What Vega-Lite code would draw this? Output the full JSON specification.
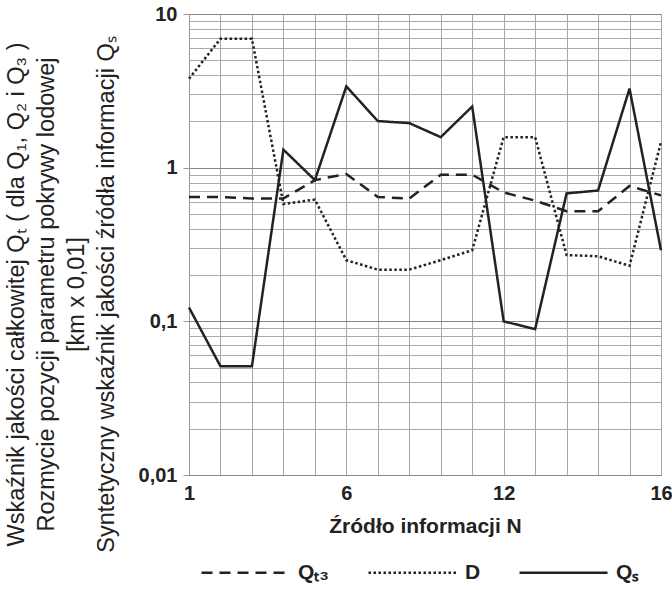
{
  "$schema": "https://vega.github.io/schema/vega-lite/v6.json",
  "width": 472,
  "height": 461,
  "autosize": {"type": "none"},
  "padding": {"left": 189, "top": 14, "right": 11, "bottom": 115},
  "background": "white",
  "config": {"view": {"stroke": "#999", "strokeWidth": 1}, "font": "Liberation Sans"},
  "data": {
    "values": [
      {"N": 1, "series": "Qₜ₃", "value": 0.645},
      {"N": 2, "series": "Qₜ₃", "value": 0.645},
      {"N": 3, "series": "Qₜ₃", "value": 0.63},
      {"N": 4, "series": "Qₜ₃", "value": 0.63},
      {"N": 5, "series": "Qₜ₃", "value": 0.83},
      {"N": 6, "series": "Qₜ₃", "value": 0.91},
      {"N": 7, "series": "Qₜ₃", "value": 0.645},
      {"N": 8, "series": "Qₜ₃", "value": 0.63},
      {"N": 9, "series": "Qₜ₃", "value": 0.9},
      {"N": 10, "series": "Qₜ₃", "value": 0.9},
      {"N": 11, "series": "Qₜ₃", "value": 0.69},
      {"N": 12, "series": "Qₜ₃", "value": 0.61},
      {"N": 13, "series": "Qₜ₃", "value": 0.52},
      {"N": 14, "series": "Qₜ₃", "value": 0.52},
      {"N": 15, "series": "Qₜ₃", "value": 0.76},
      {"N": 16, "series": "Qₜ₃", "value": 0.66},
      {"N": 1, "series": "D", "value": 3.79},
      {"N": 2, "series": "D", "value": 6.9},
      {"N": 3, "series": "D", "value": 6.9},
      {"N": 4, "series": "D", "value": 0.58},
      {"N": 5, "series": "D", "value": 0.62},
      {"N": 6, "series": "D", "value": 0.25},
      {"N": 7, "series": "D", "value": 0.217},
      {"N": 8, "series": "D", "value": 0.217},
      {"N": 9, "series": "D", "value": 0.25},
      {"N": 10, "series": "D", "value": 0.29},
      {"N": 11, "series": "D", "value": 1.58},
      {"N": 12, "series": "D", "value": 1.58},
      {"N": 13, "series": "D", "value": 0.27},
      {"N": 14, "series": "D", "value": 0.265},
      {"N": 15, "series": "D", "value": 0.23},
      {"N": 16, "series": "D", "value": 1.47},
      {"N": 1, "series": "Qₛ", "value": 0.123},
      {"N": 2, "series": "Qₛ", "value": 0.051},
      {"N": 3, "series": "Qₛ", "value": 0.051},
      {"N": 4, "series": "Qₛ", "value": 1.31},
      {"N": 5, "series": "Qₛ", "value": 0.83},
      {"N": 6, "series": "Qₛ", "value": 3.38},
      {"N": 7, "series": "Qₛ", "value": 2.01},
      {"N": 8, "series": "Qₛ", "value": 1.95},
      {"N": 9, "series": "Qₛ", "value": 1.58},
      {"N": 10, "series": "Qₛ", "value": 2.5},
      {"N": 11, "series": "Qₛ", "value": 0.1},
      {"N": 12, "series": "Qₛ", "value": 0.089},
      {"N": 13, "series": "Qₛ", "value": 0.68},
      {"N": 14, "series": "Qₛ", "value": 0.71},
      {"N": 15, "series": "Qₛ", "value": 3.27},
      {"N": 16, "series": "Qₛ", "value": 0.29}
    ]
  },
  "mark": {"type": "line", "strokeCap": "butt", "strokeJoin": "miter", "color": "#222"},
  "encoding": {
    "x": {
      "field": "N",
      "type": "quantitative",
      "scale": {"domain": [1, 16], "nice": false, "zero": false},
      "axis": {
        "values": [1, 2, 3, 4, 5, 6, 7, 8, 9, 10, 11, 12, 13, 14, 15, 16],
        "labelExpr": "datum.value==1?'1':datum.value==6?'6':datum.value==11?'12':datum.value==16?'16':''",
        "labelOverlap": false,
        "labelFlush": false,
        "ticks": false,
        "domain": false,
        "gridColor": "#a6a6a6",
        "gridWidth": 1,
        "labelFontSize": 20,
        "labelFontWeight": "bold",
        "labelColor": "#222",
        "labelPadding": 8,
        "title": "Źródło informacji N",
        "titleFontSize": 21,
        "titleFontWeight": "bold",
        "titleColor": "#222",
        "titleBaseline": "alphabetic",
        "titleY": 57
      }
    },
    "y": {
      "field": "value",
      "type": "quantitative",
      "scale": {"type": "log", "domain": [0.01, 10], "nice": false},
      "axis": {
        "values": [0.01, 0.02, 0.03, 0.04, 0.05, 0.06, 0.07, 0.08, 0.09, 0.1, 0.2, 0.3, 0.4, 0.5, 0.6, 0.7, 0.8, 0.9, 1, 2, 3, 4, 5, 6, 7, 8, 9, 10],
        "labelExpr": "datum.value==10?'10':datum.value==1?'1':datum.value==0.1?'0,1':datum.value==0.01?'0,01':''",
        "labelOverlap": false,
        "labelFlush": false,
        "labelFontSize": 20,
        "labelFontWeight": "bold",
        "labelColor": "#222",
        "labelPadding": 6,
        "tickSize": 6,
        "tickColor": "#999",
        "tickOpacity": {"condition": {"test": "indexof([0.01,0.1,1,10], datum.value) >= 0", "value": 1}, "value": 0},
        "domainColor": "#999",
        "gridColor": {"condition": {"test": "indexof([0.01,0.1,1,10], datum.value) >= 0", "value": "#888"}, "value": "#aaa"},
        "gridWidth": 1,
        "title": [
          "Wskaźnik jakości całkowitej Qₜ ( dla Q₁, Q₂ i Q₃ )",
          "Rozmycie pozycji parametru pokrywy lodowej",
          "[km x 0,01]",
          "Syntetyczny wskaźnik jakości źródła informacji Qₛ"
        ],
        "titleFontSize": 23.5,
        "titleFontWeight": "normal",
        "titleColor": "#222",
        "titleLineHeight": 30,
        "titleAngle": -90,
        "titleAlign": "center",
        "titleBaseline": "top",
        "titleX": -185,
        "titleY": 280
      }
    },
    "strokeDash": {
      "field": "series",
      "type": "nominal",
      "scale": {"domain": ["Qₜ₃", "D", "Qₛ"], "range": [[11, 7], [2.5, 2.5], [1, 0]]},
      "legend": {
        "orient": "none",
        "direction": "horizontal",
        "columns": 3,
        "legendX": 11,
        "legendY": 513,
        "title": null,
        "padding": 0,
        "symbolType": "stroke",
        "symbolSize": 7744,
        "symbolStrokeWidth": 2.2,
        "symbolStrokeColor": "#222",
        "symbolOffset": 0,
        "labelFontSize": 21,
        "labelFontWeight": "bold",
        "labelColor": "#222",
        "labelOffset": 7,
        "columnPadding": 33,
        "encode": {
          "symbols": {
            "update": {
              "strokeDash": {"signal": "datum.value === 'D' ? [1.6, 1.6] : datum.value === 'Qₛ' ? [1, 0] : [15, 7]"},
              "strokeWidth": {"signal": "datum.value === 'D' ? 1.6 : 2.2"}
            }
          }
        }
      }
    },
    "strokeWidth": {
      "field": "series",
      "type": "nominal",
      "scale": {"domain": ["Qₜ₃", "D", "Qₛ"], "range": [2.5, 2.5, 3]},
      "legend": null
    }
  }
}
